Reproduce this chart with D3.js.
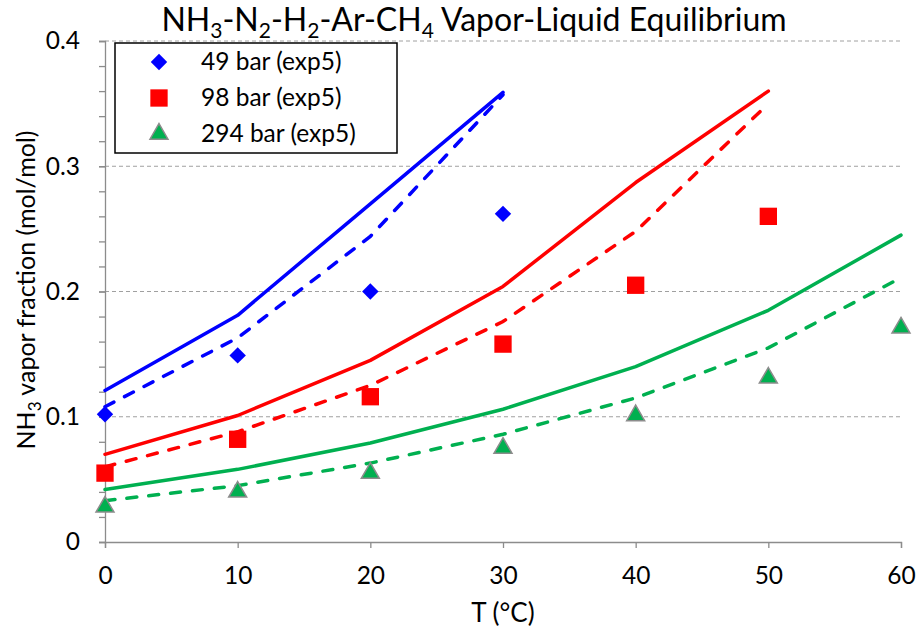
<!DOCTYPE html>
<html>
<head>
<meta charset="utf-8">
<title>NH3-N2-H2-Ar-CH4 Vapor-Liquid Equilibrium</title>
<style>
  body { margin: 0; background: #fff; }
  text { font-family: Lato, "Open Sans", sans-serif; fill: #000; }
</style>
</head>
<body>
<script src="https://d3js.org/d3.v7.min.js"></script>
<script>
// temperatures (°C)
var temps49  = [0, 10, 20, 30],
    temps98  = [0, 10, 20, 30, 40, 50],
    temps294 = [0, 10, 20, 30, 40, 50, 60];

// experimental points (exp5)
var exp49  = [0.102, 0.149, 0.200, 0.262],
    exp98  = [0.055, 0.082, 0.116, 0.158, 0.205, 0.260],
    exp294 = [0.028, 0.040, 0.055, 0.075, 0.101, 0.131, 0.171];

// model curves: solid and dashed
var solid49  = [0.121, 0.181, 0.270, 0.359],
    dash49   = [0.108, 0.163, 0.244, 0.357],
    solid98  = [0.070, 0.101, 0.145, 0.204, 0.287, 0.360],
    dash98   = [0.060, 0.088, 0.125, 0.176, 0.248, 0.350],
    solid294 = [0.042, 0.058, 0.079, 0.106, 0.140, 0.185, 0.245],
    dash294  = [0.033, 0.045, 0.063, 0.086, 0.115, 0.155, 0.211];

var xTicks = [0, 10, 20, 30, 40, 50, 60],
    yTicks = [0, 0.1, 0.2, 0.3, 0.4];

var legendLabels = ["49 bar (exp5)", "98 bar (exp5)", "294 bar (exp5)"];

var width = 916, height = 632,
    margin = {top: 41, right: 15, bottom: 90, left: 105};

var svg = d3.select("body").append("svg")
    .attr("width", width)
    .attr("height", height);

var x = d3.scaleLinear().domain([0, 60]).range([margin.left, width - margin.right]);
var y = d3.scaleLinear().domain([0, 0.4]).range([height - margin.bottom, margin.top]);

// gridlines
svg.append("g")
    .selectAll("line")
    .data(yTicks.slice(1))
    .enter().append("line")
    .attr("x1", x(0)).attr("x2", x(60))
    .attr("y1", function(d){ return y(d); })
    .attr("y2", function(d){ return y(d); })
    .style("stroke", "#a0a0a0")
    .style("stroke-width", 1)
    .style("stroke-dasharray", "4,3");

// x axis
svg.append("g")
    .attr("transform", "translate(0," + y(0) + ")")
    .call(d3.axisBottom(x).tickValues(xTicks).tickSize(6).tickPadding(19).tickFormat(d3.format("d")));

// y axis, with minor ticks every 0.02
var yMinor = svg.append("g")
    .attr("transform", "translate(" + x(0) + ",0)")
    .call(d3.axisLeft(y).tickValues(d3.range(0, 0.401, 0.02)).tickSize(6).tickFormat(""));
yMinor.select(".domain").remove();

svg.append("g")
    .attr("transform", "translate(" + x(0) + ",0)")
    .call(d3.axisLeft(y).tickValues(yTicks).tickSize(6).tickPadding(19)
        .tickFormat(function(d){ return d === 0 ? "0" : d3.format(".1f")(d); }));

svg.selectAll(".domain, .tick line").style("stroke", "#8c8c8c").style("stroke-width", 1.3);
svg.selectAll(".tick text").style("font-size", "24.5px").style("font-family", "Lato, sans-serif");

// axis titles
svg.append("text")
    .attr("x", 503)
    .attr("y", 622)
    .attr("text-anchor", "middle")
    .style("font-size", "26px")
    .text("T (°C)");

var yTitle = svg.append("text")
    .attr("transform", "translate(35,290) rotate(-90)")
    .attr("text-anchor", "middle")
    .style("font-size", "25px");
yTitle.append("tspan").text("NH");
yTitle.append("tspan").attr("baseline-shift", "-6px").style("font-size", "17px").text("3");
yTitle.append("tspan").text(" vapor fraction (mol/mol)");

// title with subscripts
var titleParts = [["NH", "3"], ["-N", "2"], ["-H", "2"], ["-Ar-CH", "4"], [" Vapor-Liquid Equilibrium", ""]];
var title = svg.append("text")
    .attr("x", 474)
    .attr("y", 31)
    .attr("text-anchor", "middle")
    .style("font-size", "32px");
titleParts.forEach(function(p){
    title.append("tspan").text(p[0]);
    if (p[1]) title.append("tspan").attr("baseline-shift", "-7px").style("font-size", "21px").text(p[1]);
});

// series
var series = [
    {t: temps49,  exp: exp49,  solid: solid49,  dash: dash49,  color: "#0000ff", shape: d3.symbolSquare,   size: 135, rot: 45, stroke: "none"},
    {t: temps98,  exp: exp98,  solid: solid98,  dash: dash98,  color: "#ff0000", shape: d3.symbolSquare,   size: 300, rot: 0,  stroke: "none"},
    {t: temps294, exp: exp294, solid: solid294, dash: dash294, color: "#00b050", shape: d3.symbolTriangle, size: 140, rot: 0,  stroke: "#8c8c8c"}
];

var line = d3.line()
    .x(function(d){ return x(d[0]); })
    .y(function(d){ return y(d[1]); });

series.forEach(function(s){
    svg.append("path")
        .attr("d", line(d3.zip(s.t, s.solid)))
        .style("fill", "none")
        .style("stroke", s.color)
        .style("stroke-width", 3.5)
        .style("stroke-linejoin", "round")
        .style("stroke-linecap", "round");
    svg.append("path")
        .attr("d", line(d3.zip(s.t, s.dash)))
        .style("fill", "none")
        .style("stroke", s.color)
        .style("stroke-width", 3.5)
        .style("stroke-dasharray", "10,12")
        .style("stroke-linecap", "round");
});

series.forEach(function(s){
    svg.append("g")
        .selectAll("path")
        .data(d3.zip(s.t, s.exp))
        .enter().append("path")
        .attr("transform", function(d){ return "translate(" + x(d[0]) + "," + y(d[1]) + ") rotate(" + s.rot + ")"; })
        .attr("d", d3.symbol().type(s.shape).size(s.size))
        .style("fill", s.color)
        .style("stroke", s.stroke)
        .style("stroke-width", 1.5);
});

// legend
var legend = svg.append("g").attr("transform", "translate(115,43)");
legend.append("rect")
    .attr("width", 282).attr("height", 110)
    .style("fill", "#fff")
    .style("stroke", "#000")
    .style("stroke-width", 1.5);

legendLabels.forEach(function(label, i){
    var s = series[i];
    var row = legend.append("g").attr("transform", "translate(0," + (19 + i * 36) + ")");
    row.append("path")
        .attr("transform", "translate(44,0) rotate(" + s.rot + ")")
        .attr("d", d3.symbol().type(s.shape).size(s.size))
        .style("fill", s.color)
        .style("stroke", s.stroke)
        .style("stroke-width", 1.5);
    row.append("text")
        .attr("x", 86)
        .attr("y", 8)
        .style("font-size", "24.5px")
        .text(label);
});
</script>
</body>
</html>
